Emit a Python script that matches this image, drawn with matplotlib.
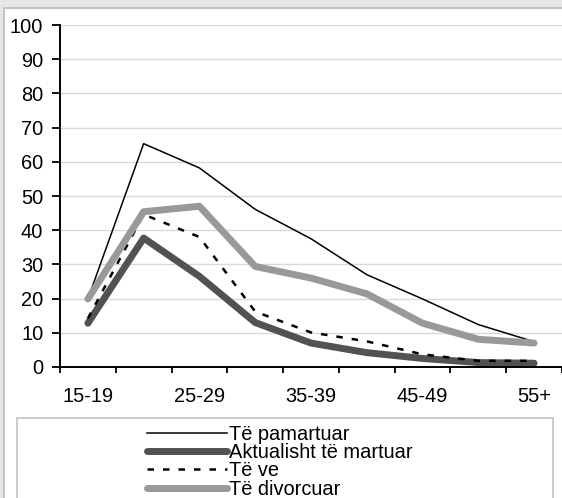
import matplotlib
matplotlib.use('Agg')
import matplotlib.pyplot as plt
from matplotlib.patches import Rectangle
import numpy as np

# age groups (only every other one gets a label on the axis)
age_groups = ['15-19', '20-24', '25-29', '30-34', '35-39', '40-44', '45-49', '50-54', '55+']

# percentages
pamartuar  = [19.9, 65.3, 58.2, 46.1, 37.5, 27.0, 19.9, 12.4, 7.4]
martuar    = [12.8, 37.7, 26.5, 13.0, 7.0, 4.2, 2.5, 1.3, 1.1]
ve         = [14.2, 44.6, 38.0, 16.2, 10.1, 7.5, 3.7, 1.8, 1.8]
divorcuar  = [19.9, 45.4, 47.0, 29.4, 26.0, 21.4, 12.8, 8.1, 7.0]

labels = ['Të pamartuar', 'Aktualisht të martuar', 'Të ve', 'Të divorcuar']

W, H, DPI = 562, 498, 100
FS = 14.4

plt.rcParams['font.family'] = ['Liberation Sans', 'DejaVu Sans']

fig = plt.figure(figsize=(W / DPI, H / DPI), dpi=DPI, facecolor='#e6e6e6')

# white chart panel with grey border
fig.patches.append(Rectangle((4 / W, -0.1), 1.1, 1 - 8 / H + 0.1,
                             transform=fig.transFigure, facecolor='white',
                             edgecolor='#c4c4c4', linewidth=1.5, zorder=-5))

ax = fig.add_axes([60 / W, 1 - 367 / H, 1 - 60 / W, (367 - 25) / H])
ax.set_facecolor('none')
ax.set_zorder(3)

x = np.arange(len(age_groups)) + 0.5
ax.plot(x, pamartuar, color='black', lw=1.1, label=labels[0])
ax.plot(x, martuar, color='#525252', lw=5, solid_capstyle='round', label=labels[1])
ax.plot(x, ve, color='black', lw=1.8, dashes=(2.6, 3.6), label=labels[2])
ax.plot(x, divorcuar, color='#999999', lw=5, solid_capstyle='round', label=labels[3])

ax.set_xlim(0, len(age_groups))
ax.set_ylim(0, 100)
ax.set_yticks(np.arange(0, 101, 10))
ax.yaxis.grid(True, color='#d9d9d9', lw=1)
ax.set_axisbelow(True)

# tick marks on category boundaries, labels centred on every other category
ax.set_xticks(np.arange(0, len(age_groups) + 1))
ax.set_xticklabels([])
ax.set_xticks(x[::2], minor=True)
ax.set_xticklabels(age_groups[::2], minor=True)
ax.tick_params(axis='x', which='major', length=4, width=1.3, direction='out')
ax.tick_params(axis='x', which='minor', length=0, pad=14.5, labelsize=FS)
ax.tick_params(axis='y', length=6, width=1.3, pad=6, labelsize=FS)

for s in ['top', 'right']:
    ax.spines[s].set_visible(False)
for s in ['left', 'bottom']:
    ax.spines[s].set_linewidth(1.4)

# legend box
fig.patches.append(Rectangle((17 / W, -0.1), (553 - 17) / W, (498 - 418) / H + 0.1,
                             transform=fig.transFigure, facecolor='white',
                             edgecolor='#c8c8c8', linewidth=1.3, zorder=-4))
h, l = ax.get_legend_handles_labels()
leg = fig.legend(h, l, loc='upper left', bbox_to_anchor=(147 / W, 1 - 425 / H),
                 frameon=False, fontsize=FS, handlelength=4.0, handletextpad=0.1,
                 labelspacing=-0.04, borderpad=0, borderaxespad=0)
leg.set_zorder(4)

fig.savefig('out.png', dpi=DPI, facecolor=fig.get_facecolor())
